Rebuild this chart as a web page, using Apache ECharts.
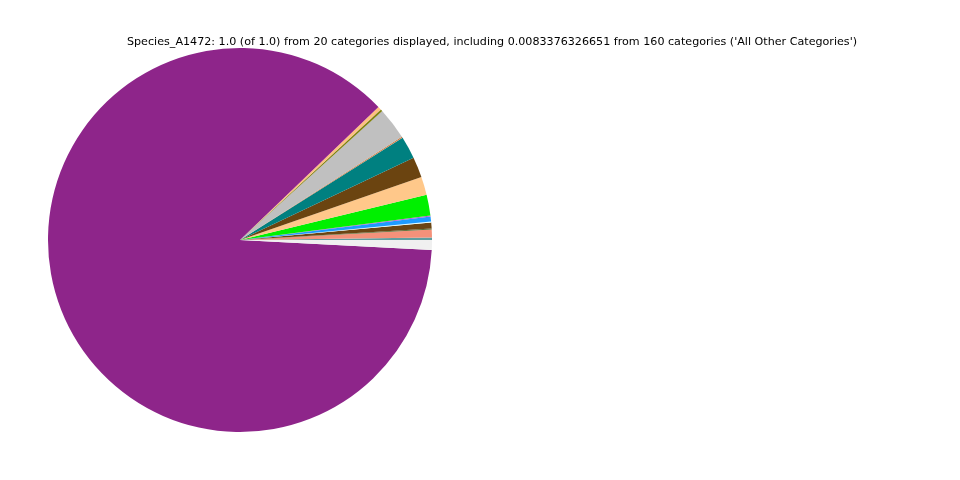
<!DOCTYPE html>
<html>
<head>
<meta charset="utf-8">
<script src="https://cdn.jsdelivr.net/npm/echarts@6/dist/echarts.min.js"></script>
<style>html,body{margin:0;padding:0;background:#fff}#c{width:960px;height:480px}</style>
</head>
<body>
<div id="c"></div>
<script>
const titleText = "Species_A1472: 1.0 (of 1.0) from 20 categories displayed, including 0.0083376326651 from 160 categories ('All Other Categories')";
const categories = ["Cat_01","Cat_02","Cat_03","Cat_04","Cat_05","Cat_06","Cat_07","Cat_08","Cat_09","Cat_10","Cat_11","Cat_12","Cat_13","Cat_14","Cat_15","Cat_16","Cat_17","Cat_18","Cat_19","All Other Categories"];
const values = [0.0021,0.0067,0.0008,0.0050,0.0008,0.0042,0.0008,0.0175,0.0153,0.0172,0.0189,0.0003,0.0008,0.0267,0.0003,0.0014,0.0003,0.0028,0.8700,0.0083376326651];
const colors = ["#5f9ea0","#f4917a","#556b2f","#6b4513","#e0ffff","#1e9bff","#ba55d3","#00f000","#ffc88a","#6b4410","#008080","#a9a9a9","#d2691e","#c0c0c0","#808080","#808000","#556b2f","#ffc080","#8e258a","#f0f0f0"];

const chart = echarts.init(document.getElementById('c'), null, {renderer:'canvas'});
chart.setOption({
  animation:false,
  backgroundColor:'#fff',
  title:{text:titleText,left:122,top:32,textStyle:{fontFamily:'DejaVu Sans',fontSize:11.14,fontWeight:'normal',color:'#000'}},
  series:[{
    type:'pie',
    center:[240,240],
    radius:[0,192],
    startAngle:0,
    clockwise:false,
    minAngle:0,
    avoidLabelOverlap:false,
    label:{show:false},
    labelLine:{show:false},
    emphasis:{disabled:true},
    itemStyle:{borderWidth:0},
    data:categories.map((n,i)=>({name:n,value:values[i],itemStyle:{color:colors[i]}}))
  }]
});
</script>
</body>
</html>
